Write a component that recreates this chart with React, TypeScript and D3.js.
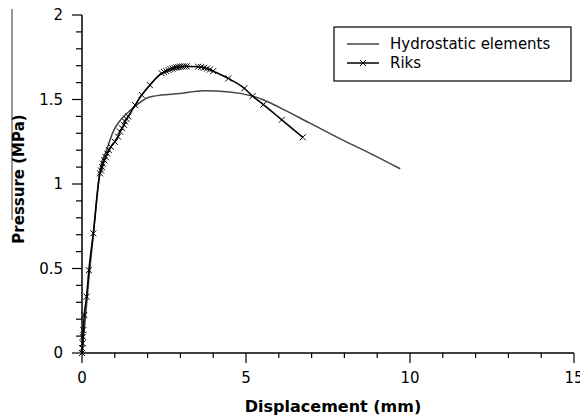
import React from "react";
import * as d3 from "d3";

const hydroX = [0, 0.1, 0.2, 0.35, 0.55, 0.75, 0.95, 1.2, 1.5, 1.75, 2.0, 2.2, 3.0, 3.7, 4.5, 5.2, 5.5, 6.0, 6.95, 8.0, 8.8, 9.7];
const hydroY = [0, 0.2, 0.42, 0.71, 1.08, 1.2, 1.31, 1.385, 1.44, 1.48, 1.51, 1.52, 1.536, 1.552, 1.545, 1.52, 1.5, 1.455, 1.36, 1.255, 1.18, 1.09];

const riksX = [0, 0.01, 0.02, 0.03, 0.04, 0.07, 0.14, 0.21, 0.345, 0.55, 0.58, 0.61, 0.64, 0.68, 0.72, 0.77, 0.82, 0.88, 1.0, 1.1, 1.16, 1.22, 1.28, 1.31, 1.36, 1.41, 1.62, 1.82, 2.07, 2.43, 2.5, 2.57, 2.64, 2.7, 2.76, 2.82, 2.88, 2.94, 3.0, 3.06, 3.12, 3.19, 3.54, 3.63, 3.72, 3.81, 3.9, 4.0, 4.46, 4.95, 5.2, 5.53, 6.09, 6.73];
const riksY = [0, 0.028, 0.057, 0.096, 0.136, 0.225, 0.333, 0.49, 0.708, 1.063, 1.08, 1.1, 1.12, 1.14, 1.16, 1.18, 1.2, 1.22, 1.25, 1.28, 1.31, 1.33, 1.35, 1.37, 1.385, 1.40, 1.467, 1.527, 1.585, 1.655, 1.662, 1.668, 1.674, 1.679, 1.683, 1.687, 1.69, 1.692, 1.694, 1.695, 1.696, 1.696, 1.694, 1.692, 1.688, 1.683, 1.677, 1.668, 1.625, 1.566, 1.52, 1.47, 1.38, 1.276];

const xMajor = [0, 5, 10, 15];
const yMajor = [0, 0.5, 1, 1.5, 2];
const xMinor = d3.range(0, 16, 1);
const yMinor = d3.range(0, 21, 1).map((d) => d / 10);

const legendLabels = ["Hydrostatic elements", "Riks"];

export default function App() {
  const W = 580, H = 415;
  const x = d3.scaleLinear().domain([0, 15]).range([82, 574]);
  const y = d3.scaleLinear().domain([0, 2]).range([353, 15]);
  const hydroPts: [number, number][] = hydroX.map((v, i) => [x(v), y(hydroY[i])]);
  const riksPts: [number, number][] = riksX.map((v, i) => [x(v), y(riksY[i])]);
  const path = d3.line().curve(d3.curveMonotoneX);
  const font = "DejaVu Sans, sans-serif";
  const m = 3;
  return (
    <svg width={W} height={H} style={{ position: "absolute", left: 0, top: 0 }} fontFamily={font}>
      <rect width={W} height={H} fill="#fff" />
      <line x1={12} x2={12} y1={9} y2={220} stroke="#777" strokeWidth={1.5} />
      {/* axes */}
      <line x1={x(0)} x2={x(15)} y1={y(0)} y2={y(0)} stroke="#000" strokeWidth={1.5} />
      <line x1={x(0)} x2={x(0)} y1={y(0)} y2={y(2)} stroke="#000" strokeWidth={1.5} />
      {xMinor.map((v) => (
        <line key={"xm" + v} x1={x(v)} x2={x(v)} y1={y(0)} y2={y(0) + (xMajor.includes(v) ? 10 : 5)} stroke="#000" strokeWidth={1.2} />
      ))}
      {yMinor.map((v) => (
        <line key={"ym" + v} x1={x(0)} x2={x(0) - (yMajor.some((t) => Math.abs(t - v) < 1e-9) ? 10 : 6)} y1={y(v)} y2={y(v)} stroke="#000" strokeWidth={1.2} />
      ))}
      {xMajor.map((v) => (
        <text key={"xl" + v} x={x(v)} y={383} fontSize={15} textAnchor="middle">{v}</text>
      ))}
      {yMajor.map((v) => (
        <text key={"yl" + v} x={63} y={y(v) + 5} fontSize={15} textAnchor="end">{v}</text>
      ))}
      <text x={333} y={412} fontSize={16} fontWeight="bold" textAnchor="middle">Displacement (mm)</text>
      <text transform={`translate(24,179) rotate(-90)`} fontSize={15} fontWeight="bold" textAnchor="middle">Pressure (MPa)</text>
      {/* series */}
      <path d={path(hydroPts) || ""} fill="none" stroke="#444" strokeWidth={1.5} />
      <path d={path(riksPts) || ""} fill="none" stroke="#000" strokeWidth={1.6} />
      {riksPts.map(([px, py], i) => (
        <path key={"mk" + i} d={`M${px - m},${py - m}L${px + m},${py + m}M${px - m},${py + m}L${px + m},${py - m}`} stroke="#000" strokeWidth={1} />
      ))}
      {/* legend */}
      <rect x={334} y={27} width={237} height={54} fill="#fff" stroke="#000" strokeWidth={1.2} />
      <line x1={347} x2={379} y1={44} y2={44} stroke="#444" strokeWidth={1.5} />
      <line x1={347} x2={379} y1={63} y2={63} stroke="#000" strokeWidth={1.5} />
      <path d={`M${363 - m},${63 - m}L${363 + m},${63 + m}M${363 - m},${63 + m}L${363 + m},${63 - m}`} stroke="#000" strokeWidth={1} />
      <text x={390} y={49} fontSize={15}>{legendLabels[0]}</text>
      <text x={390} y={68} fontSize={15}>{legendLabels[1]}</text>
    </svg>
  );
}
